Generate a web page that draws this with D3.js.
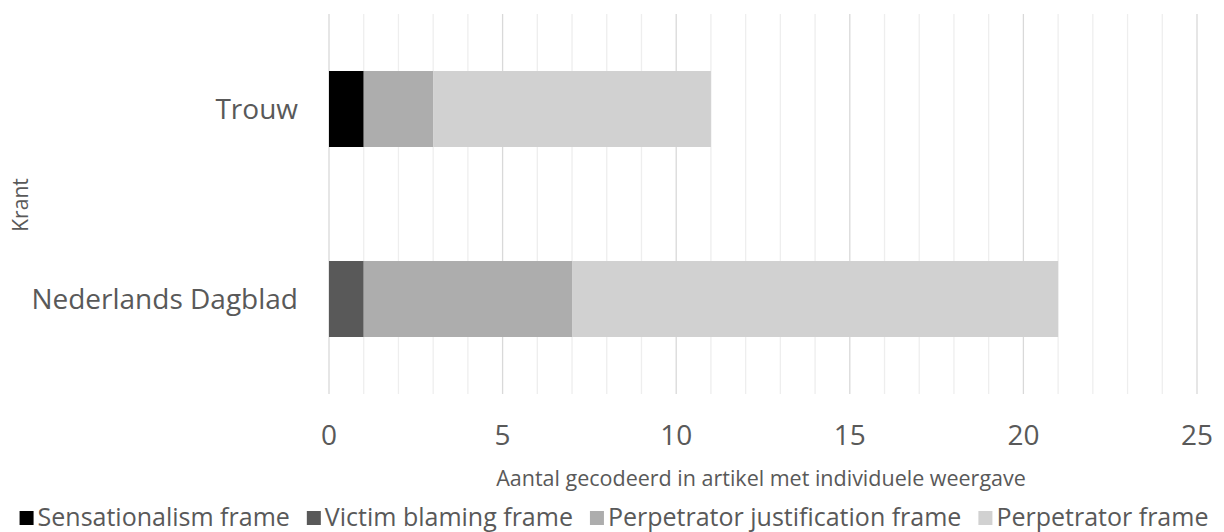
<!DOCTYPE html>
<html><head><meta charset="utf-8">
<script src="https://cdn.jsdelivr.net/npm/d3@7"></script>
<style>body{margin:0;background:#fff}svg{display:block}text{font-family:"Open Sans",sans-serif;fill:#595959}</style>
</head><body><svg id="c" width="1224" height="532"></svg>
<script>
const categories = ["Trouw", "Nederlands Dagblad"];
const seriesNames = ["Sensationalism frame", "Victim blaming frame", "Perpetrator justification frame", "Perpetrator frame"];
const sensationalism = [1, 0];
const victimBlaming = [0, 1];
const perpetratorJustification = [2, 6];
const perpetrator = [8, 14];
const xTicks = [0, 5, 10, 15, 20, 25];
const colors = ["#000000", "#595959", "#adadad", "#d1d1d1"];

(function () {
const svg = d3.select("#c");
const pL = 329, pR = 1197, pT = 14, pB = 394;
const x = d3.scaleLinear().domain([0, 25]).range([pL, pR]);
const y = d3.scaleBand().domain(categories).range([pT, pB]).paddingInner(0.6).paddingOuter(0.3);

svg.append("g").selectAll("line").data(d3.range(0, 26).filter(v => v % 5 !== 0)).join("line")
  .attr("x1", d => x(d)).attr("x2", d => x(d)).attr("y1", pT).attr("y2", pB)
  .attr("stroke", "#eeeeee").attr("stroke-width", 1.3);
svg.append("g").selectAll("line").data(xTicks).join("line")
  .attr("x1", d => x(d)).attr("x2", d => x(d)).attr("y1", pT).attr("y2", pB)
  .attr("stroke", "#d9d9d9").attr("stroke-width", 1.3);

const data = categories.map((c, i) => ({cat: c, vals: [sensationalism[i], victimBlaming[i], perpetratorJustification[i], perpetrator[i]]}));
const stack = d3.stack().keys([0,1,2,3]).value((d, k) => d.vals[k]);
const series = stack(data);
svg.append("g").selectAll("g").data(series).join("g")
  .attr("fill", (d, i) => colors[i])
  .selectAll("rect").data(d => d).join("rect")
  .attr("x", d => x(d[0])).attr("width", d => x(d[1]) - x(d[0]))
  .attr("y", d => y(d.data.cat)).attr("height", y.bandwidth());

svg.append("g").selectAll("text").data(xTicks).join("text")
  .attr("x", d => x(d)).attr("y", 445).attr("text-anchor", "middle")
  .style("font-size", "28px").text(d => d);

svg.append("g").selectAll("text").data(categories).join("text")
  .attr("x", 298).attr("y", d => y(d) + y.bandwidth() / 2 + 9.5).attr("text-anchor", "end")
  .style("font-size", "28px").text(d => d);

svg.append("text").attr("x", (pL + pR) / 2 - 2).attr("y", 486).attr("text-anchor", "middle")
  .style("font-size", "21.5px").text("Aantal gecodeerd in artikel met individuele weergave");
svg.append("text").attr("transform", `translate(28,${(pT + pB) / 2 + 1}) rotate(-90)`).attr("text-anchor", "middle")
  .style("font-size", "21px").text("Krant");

const lg = svg.append("g");
let cx = 0;
seriesNames.forEach((n, i) => {
  const g = lg.append("g");
  g.append("rect").attr("x", 0).attr("y", -15).attr("width", 14).attr("height", 14).attr("fill", colors[i]);
  const t = g.append("text").attr("x", 18).attr("y", 0).style("font-size", "25px").text(n);
  const w = 18 + t.node().getComputedTextLength();
  g.attr("transform", `translate(${cx},526)`);
  cx += w + 17;
});
const totalW = cx - 17;
lg.attr("transform", `translate(${(1224 - totalW) / 2 + 2},0)`);
})();
</script></body></html>
